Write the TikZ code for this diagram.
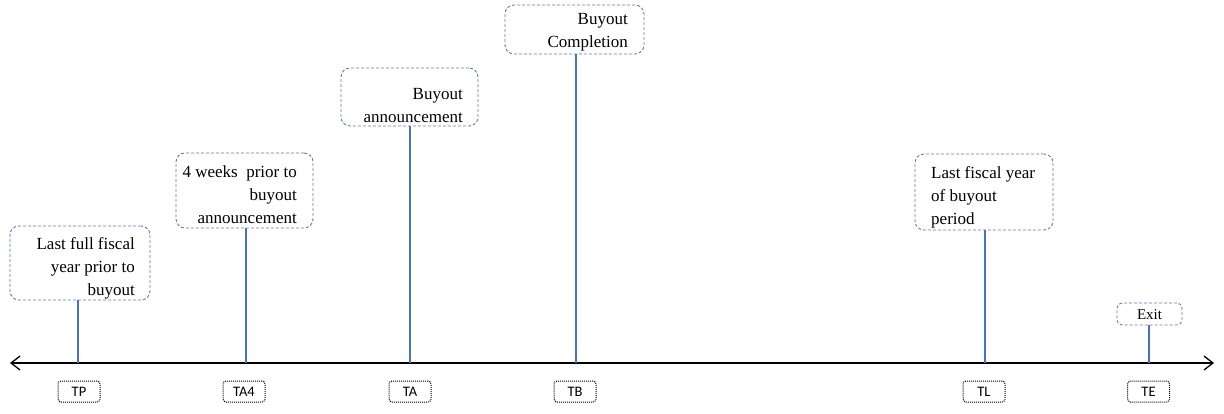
\documentclass[tikz,border=0pt]{standalone}
\usepackage{fontspec}
\setmainfont{Liberation Serif}
\newfontfamily\lblfont{Carlito}
\usetikzlibrary{arrows.meta}
\definecolor{stemblue}{RGB}{68,114,196}
\definecolor{boxedge}{RGB}{96,126,176}
\tikzset{
  evbox/.style={draw=boxedge, densely dashed, line width=0.9pt, rounded corners=9pt, inner sep=0pt},
  evtext/.style={font=\fontsize{17}{23}\selectfont, inner sep=0pt},
  tbox/.style={draw=black, densely dotted, line width=1pt, rounded corners=3pt, minimum width=42pt, minimum height=21pt, inner sep=0pt, text depth=0pt, font=\lblfont\fontsize{14.5}{16}\selectfont},
  stem/.style={draw=stemblue, line width=1.5pt},
  axisline/.style={draw=black, line width=1.3pt, {Straight Barb[length=9pt,width=14pt]}-{Straight Barb[length=9pt,width=14pt]}}
}
\begin{document}
\begin{tikzpicture}[x=1pt,y=-1pt]
\useasboundingbox (0,0) rectangle (1224,414);
% axis
\coordinate (axL) at (10,363);
\coordinate (axR) at (1214,363);
\draw[axisline] (axL) -- (axR);
% axis points
\coordinate (pP) at (78,363);
\coordinate (pA4) at (246,363);
\coordinate (pA) at (410,363);
\coordinate (pB) at (576,363);
\coordinate (pL) at (985,363);
\coordinate (pE) at (1149,363);
% event boxes
\node[evbox, minimum width=140pt, minimum height=74pt] (bP) at (80,263) {};
\node[evtext, anchor=east, align=right] (tP) at (135,268) {Last full fiscal\\year prior to\\buyout};
\node[evbox, minimum width=137pt, minimum height=75pt] (bA4) at (244.5,190.5) {};
\node[evtext, anchor=east, align=right] (tA4) at (297,195) {4 weeks\ \ prior to\\buyout\\announcement};
\node[evbox, minimum width=137pt, minimum height=58pt] (bA) at (409.5,97) {};
\node[evtext, anchor=east, align=right] (tA) at (463,105.5) {Buyout\\announcement};
\node[evbox, minimum width=139pt, minimum height=49pt] (bB) at (574.5,29.5) {};
\node[evtext, anchor=east, align=right] (tB) at (628,32) {Buyout\\Completion};
\node[evbox, minimum width=138pt, minimum height=76pt] (bL) at (984,192) {};
\node[evtext, anchor=west, align=left] (tL) at (931,197) {Last fiscal year\\of buyout\\period};
\node[evbox, rounded corners=5pt, minimum width=65pt, minimum height=22pt] (bE) at (1149.5,314) {};
\node[evtext, font=\fontsize{15}{18}\selectfont] (tE) at (1149.5,315) {Exit};
% stems
\draw[stem] (bP.south -| pP) -- (pP);
\draw[stem] (bA4.south -| pA4) -- (pA4);
\draw[stem] (bA.south -| pA) -- (pA);
\draw[stem] (bB.south -| pB) -- (pB);
\draw[stem] (bL.south -| pL) -- (pL);
\draw[stem] (bE.south -| pE) -- (pE);
% time labels
\node[tbox] (lP) at (79,391.5) {TP};
\node[tbox] (lA4) at (244,391.5) {TA4};
\node[tbox] (lA) at (410,391.5) {TA};
\node[tbox] (lB) at (575,391.5) {TB};
\node[tbox] (lL) at (984,391.5) {TL};
\node[tbox] (lE) at (1148.5,391.5) {TE};
\end{tikzpicture}
\end{document}
